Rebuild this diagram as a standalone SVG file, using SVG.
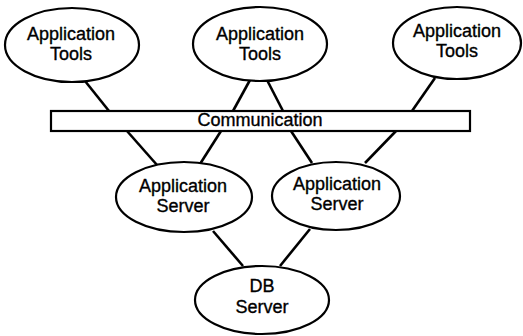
<svg xmlns="http://www.w3.org/2000/svg" width="523" height="336" viewBox="0 0 523 336">
  <style>
    .node { fill: #fff; stroke: #000; stroke-width: 2.2; }
    .link { stroke: #000; stroke-width: 2.6; fill: none; }
    text { font-family: "Liberation Sans", Arial, sans-serif; font-size: 18px; fill: #000; stroke: #000; stroke-width: 0.35; text-anchor: middle; }
  </style>
  <rect width="523" height="336" fill="#fff"/>

  <!-- connectors -->
  <g id="connectors">
    <line class="link" x1="85" y1="81" x2="109" y2="111"/>
    <line class="link" x1="250" y1="80" x2="233" y2="111"/>
    <line class="link" x1="267" y1="80" x2="283" y2="111"/>
    <line class="link" x1="435" y1="78" x2="412" y2="111"/>
    <line class="link" x1="127" y1="131" x2="157" y2="165"/>
    <line class="link" x1="221" y1="131" x2="200" y2="164"/>
    <line class="link" x1="291" y1="131" x2="312" y2="163"/>
    <line class="link" x1="396" y1="131" x2="365" y2="163"/>
    <line class="link" x1="213" y1="231" x2="243" y2="266"/>
    <line class="link" x1="310" y1="229" x2="280" y2="266"/>
  </g>

  <g id="tools-left">
    <ellipse class="node" cx="72" cy="45" rx="67" ry="37"/>
    <text x="71" y="40">Application</text>
    <text x="71" y="60">Tools</text>
  </g>
  <g id="tools-middle">
    <ellipse class="node" cx="260" cy="44" rx="67" ry="37"/>
    <text x="260" y="40">Application</text>
    <text x="260" y="60">Tools</text>
  </g>
  <g id="tools-right">
    <ellipse class="node" cx="457" cy="43" rx="64" ry="36"/>
    <text x="457" y="37">Application</text>
    <text x="457" y="57">Tools</text>
  </g>

  <g id="communication">
    <rect class="node" x="51" y="111" width="419" height="20"/>
    <text x="260" y="126">Communication</text>
  </g>

  <g id="app-server-left">
    <ellipse class="node" cx="184" cy="197" rx="68" ry="35"/>
    <text x="183" y="192">Application</text>
    <text x="183" y="212">Server</text>
  </g>
  <g id="app-server-right">
    <ellipse class="node" cx="336" cy="196" rx="64" ry="34"/>
    <text x="337" y="190">Application</text>
    <text x="337" y="210">Server</text>
  </g>

  <g id="db-server">
    <ellipse class="node" cx="262" cy="300" rx="67" ry="34"/>
    <text x="262" y="292">DB</text>
    <text x="262" y="313">Server</text>
  </g>
</svg>
